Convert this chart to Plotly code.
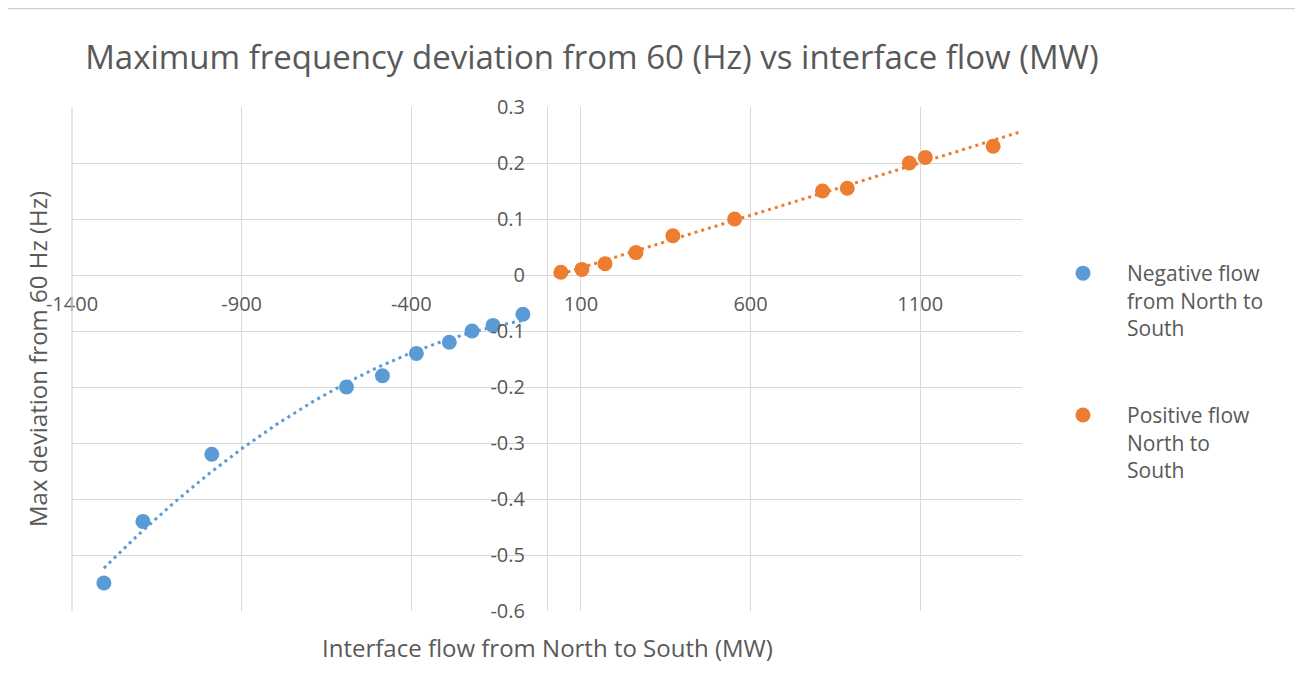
import numpy as np
import plotly.graph_objects as go

# ---- data ----
neg_flow_mw = [-1306, -1191, -988, -591, -485, -385, -288, -221, -159, -71]
neg_dev_hz = [-0.55, -0.44, -0.32, -0.20, -0.18, -0.14, -0.12, -0.10, -0.09, -0.07]
pos_flow_mw = [41, 103, 171, 262, 371, 553, 812, 885, 1068, 1115, 1315]
pos_dev_hz = [0.005, 0.01, 0.02, 0.04, 0.07, 0.10, 0.15, 0.155, 0.20, 0.21, 0.23]

x_tick_vals = [-1400, -900, -400, 100, 600, 1100]
x_tick_text = ["-1400", "-900", "-400", "100", "600", "1100"]
y_tick_vals = [0.3, 0.2, 0.1, 0, -0.1, -0.2, -0.3, -0.4, -0.5, -0.6]
y_tick_text = ["0.3", "0.2", "0.1", "0", "-0.1", "-0.2", "-0.3", "-0.4", "-0.5", "-0.6"]
x_range = [-1400, 1400]
y_range = [-0.6, 0.3]

series_names = ["Negative flow<br>from North to<br>South", "Positive flow<br>North to<br>South"]
title_text = "Maximum frequency deviation from 60 (Hz) vs interface flow (MW)"
x_title = "Interface flow from North to South (MW)"
y_title = "Max deviation from 60 Hz (Hz)"

BLUE = "#5B9BD5"
ORANGE = "#ED7D31"
TXT = "#595959"
GRID = "#D9D9D9"
FONT = "Open Sans"

OFF = 8  # page body margin
W, H = 1303 - OFF, 679 - OFF


def px(x):
    return (x - OFF) / W


def py(y):
    return 1 - (y - OFF) / H


# plot area in page pixels
PL, PR, PT, PB = 72, 1022, 107, 611
xd = [px(PL), px(PR)]
yd = [py(PB), py(PT)]
x_axis_pos = yd[0] + (0 - y_range[0]) / (y_range[1] - y_range[0]) * (yd[1] - yd[0])
y_axis_pos = xd[0] + (0 - x_range[0]) / (x_range[1] - x_range[0]) * (xd[1] - xd[0])

# trendlines (fitted from the data, as Excel does)
neg_coef = np.polyfit(neg_flow_mw, neg_dev_hz, 2)
neg_tx = np.linspace(min(neg_flow_mw), max(neg_flow_mw), 120)
neg_ty = np.polyval(neg_coef, neg_tx)
pos_coef = np.polyfit(pos_flow_mw, pos_dev_hz, 1)
pos_tx = np.array([min(pos_flow_mw) - 20, x_range[1]])
pos_ty = np.polyval(pos_coef, pos_tx)

fig = go.Figure()
fig.add_trace(go.Scatter(x=neg_tx, y=neg_ty, mode="lines", showlegend=False,
                         line=dict(color=BLUE, width=3, dash="3px,4px"), hoverinfo="skip"))
fig.add_trace(go.Scatter(x=pos_tx, y=pos_ty, mode="lines", showlegend=False,
                         line=dict(color=ORANGE, width=3, dash="3px,4px"), hoverinfo="skip"))
fig.add_trace(go.Scatter(x=neg_flow_mw, y=neg_dev_hz, mode="markers", name=series_names[0],
                         legendgroup="a", marker=dict(color=BLUE, size=15)))
fig.add_trace(go.Scatter(x=pos_flow_mw, y=pos_dev_hz, mode="markers", name=series_names[1],
                         legendgroup="b", marker=dict(color=ORANGE, size=15)))

fig.update_layout(
    width=W, height=H,
    margin=dict(l=0, r=0, t=0, b=0, pad=0, autoexpand=False),
    paper_bgcolor="white", plot_bgcolor="white",
    font=dict(family=FONT, color=TXT),
    title=dict(text=title_text, x=px(592), xanchor="center", y=py(57), yanchor="middle",
               xref="paper", yref="paper", font=dict(size=33, color=TXT, family=FONT)),
    xaxis=dict(domain=xd, range=x_range, tickvals=x_tick_vals, ticktext=x_tick_text,
               showgrid=True, gridcolor=GRID, gridwidth=1.3, zeroline=True, zerolinecolor=GRID,
               zerolinewidth=1.3, showline=False, anchor="free", position=x_axis_pos,
               ticks="", ticklabelstandoff=15, tickfont=dict(size=20, color=TXT)),
    yaxis=dict(domain=yd, range=y_range, tickvals=y_tick_vals, ticktext=y_tick_text,
               showgrid=True, gridcolor=GRID, gridwidth=1.3, zeroline=True, zerolinecolor=GRID,
               zerolinewidth=1.3, showline=False, anchor="free", position=y_axis_pos,
               ticks="", ticklabelstandoff=22, tickfont=dict(size=20, color=TXT)),
    legend=dict(x=px(1039), xanchor="left", y=py(253), yanchor="top",
                font=dict(size=21, color=TXT), valign="top", tracegroupgap=57,
                itemwidth=78, bgcolor="rgba(0,0,0,0)"),
    annotations=[
        dict(text=x_title, x=px((PL + PR) / 2), y=py(647), xref="paper", yref="paper",
             xanchor="center", yanchor="middle", showarrow=False, font=dict(size=24, color=TXT)),
        dict(text=y_title, x=px(38), y=py(359), xref="paper", yref="paper", textangle=-90,
             xanchor="center", yanchor="middle", showarrow=False, font=dict(size=24, color=TXT)),
    ],
    shapes=[
        dict(type="rect", xref="paper", yref="paper", x0=px(5.5), x1=px(1297.5),
             y0=-0.05, y1=py(8.5), line=dict(color="#D0D0D0", width=1.5)),
        dict(type="line", xref="paper", yref="paper", x0=xd[0], x1=xd[0], y0=yd[0], y1=yd[1],
             line=dict(color=GRID, width=1.3)),
    ],
)

fig.write_html("out.html")
